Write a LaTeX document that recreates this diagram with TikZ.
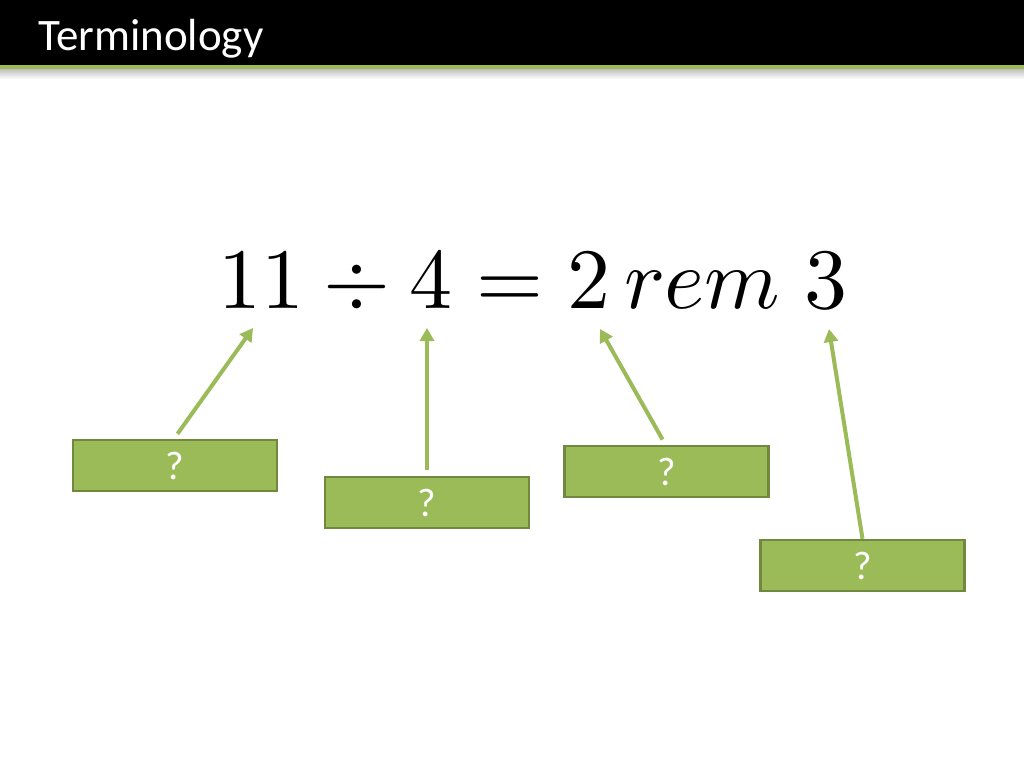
\documentclass[tikz,border=0pt]{standalone}
\usepackage{fontspec}
\usepackage{unicode-math}
\setmainfont{Carlito}
\setmathfont{Latin Modern Math}
\usetikzlibrary{positioning,arrows.meta,calc}

\definecolor{leafgreen}{HTML}{9BBB59}
\definecolor{leafdark}{HTML}{71893F}

\tikzset{
    termbox/.style={draw=leafdark, fill=leafgreen, line width=2.5pt,
        minimum width=204pt, minimum height=51pt, inner sep=0pt,
        text=white, font=\fontsize{40}{42}\selectfont},
    pointer/.style={draw=leafgreen, line width=4pt,
        -{Triangle[length=13pt,width=14pt]}, shorten <=6pt}
}

\begin{document}
\begin{tikzpicture}[x=1pt, y=-1pt]
    \useasboundingbox (0,0) rectangle (1024,768);
    \fill[white] (0,0) rectangle (1024,768);

    % title bar
    \fill[black] (0,0) rectangle (1024,65);
    \shade[top color=black!25, bottom color=white] (0,69) rectangle (1024,79);
    \fill[leafgreen] (0,65) rectangle (1024,69);
    \node[anchor=base west, text=white, inner sep=0pt,
        font=\fontsize{45}{47}\selectfont] (title) at (38,51) {Terminology};

    % equation
    \node[anchor=base, inner sep=0pt, font=\fontsize{86}{90}\selectfont]
        (eq) at (533,308) {$11 \div 4 = 2\,rem\;3$};

    % boxes
    \node[termbox] (B1) at (175,465.5) {?};
    \node[termbox] (B2) at (427,502.5) {?};
    \node[termbox] (B3) at (666.5,471.5) {?};
    \node[termbox] (B4) at (862.5,565.5) {?};

    \coordinate (T1) at (253,328);
    \coordinate (T2) at (427,328);
    \coordinate (T3) at (600,329);
    \coordinate (T4) at (829,329);

    \draw[pointer] ($(B1.north)+(-1,0)$) -- (T1);
    \draw[pointer] (B2.north) -- (T2);
    \draw[pointer] ($(B3.north)+(-1,0)$) -- (T3);
    \draw[pointer, shorten <=0pt] (B4.north) -- (T4);
\end{tikzpicture}
\end{document}
